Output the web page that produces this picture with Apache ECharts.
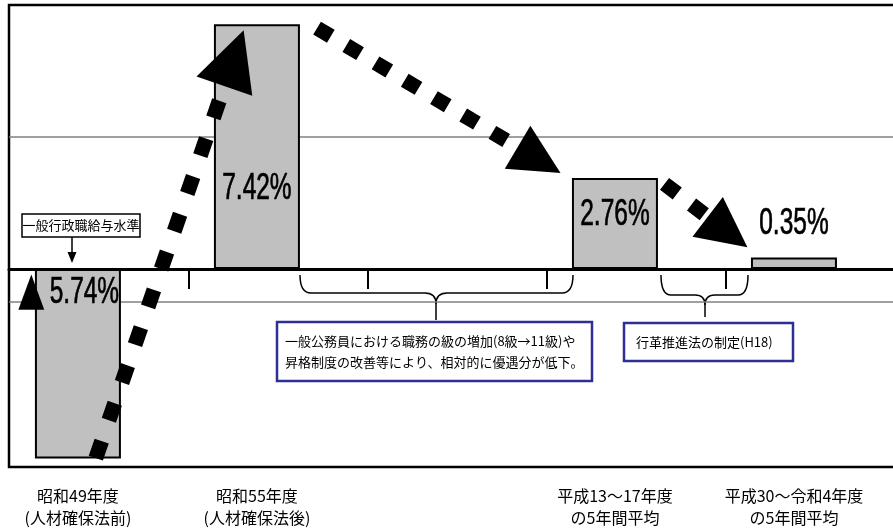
<!DOCTYPE html>
<html><head><meta charset="utf-8">
<script src="https://cdn.jsdelivr.net/npm/echarts@6/dist/echarts.min.js"></script>
<style>html,body{margin:0;padding:0;background:#fff;overflow:hidden}body{width:893px;height:532px}#c{width:913px;height:532px}</style>
</head><body><div id="c"></div>
<script>
// ---- data ----
const categories = ['昭和49年度\n(人材確保法前)', '昭和55年度\n(人材確保法後)', '平成13～17年度\nの5年間平均', '平成30～令和4年度\nの5年間平均'];
const slots = [0, 1, 3, 4];                 // category slot of each bar
const values = [-5.74, 7.42, 2.76, 0.35];   // % relative to 一般行政職
const tickSlots = [0.62, 1.62, 2.62, 3.62]; // axis ticks on the baseline
const gridValues = [-1, 4];                 // horizontal gridlines
const yRange = [-6, 8];
const xRange = [-0.385, 4.665];
// arrows (data coordinates: start, head centre)
const arrowFrom = [[0.10, -5.73], [1.336, 7.30], [3.277, 2.58]];
const arrowTo = [[0.872, 6.39], [2.576, 3.30], [3.629, 1.12]];

// ---- styles ----
const labelOffsets = [[6.5, 24], [0, 165], [0, 37], [0, -33]]; // from the bar's upper edge, px
const minusOffset = [-46.5, 23];
const arrowHead = [[51, 59], [57, 50], [57, 50]];
const arrowDash = [[18, 22], [16, 18], [16, 18]];
const numFont = '"Liberation Sans", Arial, sans-serif';
const jpFont = '"Noto Sans CJK JP","Noto Sans CJK SC",sans-serif';

const chart = echarts.init(document.getElementById('c'));

const arrowSeries = arrowFrom.map((f, i) => ({
  type: 'lines',
  coordinateSystem: 'cartesian2d',
  xAxisIndex: 0, yAxisIndex: 0,
  z: 4,
  symbol: ['none', 'triangle'],
  symbolSize: arrowHead[i],
  lineStyle: { color: '#000', width: 15, opacity: 1, type: arrowDash[i], cap: 'butt', curveness: 0 },
  data: [{ coords: [f, arrowTo[i]] }],
  silent: true,
  animation: false
}));

function brace(x1, x2, xm, yTop, yMid, yTip, r) {
  const st = { stroke: '#000', lineWidth: 1.5, fill: null };
  return [
    { type: 'bezierCurve', shape: { x1: x1, y1: yTop, x2: x1 + r, y2: yMid, cpx1: x1, cpy1: yMid }, style: st },
    { type: 'line', shape: { x1: x1 + r, y1: yMid, x2: xm - r, y2: yMid }, style: st },
    { type: 'bezierCurve', shape: { x1: xm - r, y1: yMid, x2: xm, y2: yMid + r, cpx1: xm, cpy1: yMid }, style: st },
    { type: 'bezierCurve', shape: { x1: xm + r, y1: yMid, x2: xm, y2: yMid + r, cpx1: xm, cpy1: yMid }, style: st },
    { type: 'line', shape: { x1: xm, y1: yMid + r, x2: xm, y2: yTip }, style: st },
    { type: 'line', shape: { x1: xm + r, y1: yMid, x2: x2 - r, y2: yMid }, style: st },
    { type: 'bezierCurve', shape: { x1: x2 - r, y1: yMid, x2: x2, y2: yTop, cpx1: x2, cpy1: yMid }, style: st }
  ];
}

const graphics = [].concat(
  brace(300, 573, 436, 275, 293, 320, 11),
  brace(661, 748, 705, 275, 295, 317, 10),
  [
    { type: 'rect', shape: { x: 22, y: 214, width: 118, height: 23 }, style: { fill: '#fff', stroke: '#000', lineWidth: 1.5 } },
    { type: 'text', x: 81, y: 225.5, style: { text: '一般行政職給与水準', font: '13px ' + jpFont, fill: '#000', align: 'center', verticalAlign: 'middle' } },
    { type: 'line', shape: { x1: 72, y1: 237, x2: 72, y2: 253 }, style: { stroke: '#000', lineWidth: 1.5 } },
    { type: 'polygon', shape: { points: [[67.5, 252], [76.5, 252], [72, 263]] }, style: { fill: '#000' } },
    { type: 'rect', shape: { x: 277, y: 322, width: 315, height: 59 }, style: { fill: '#fff', stroke: '#2e2e94', lineWidth: 2.5 } },
    { type: 'text', x: 285, y: 341, style: { text: '一般公務員における職務の級の増加(8級→11級)や', font: '13px ' + jpFont, fill: '#000', verticalAlign: 'middle' } },
    { type: 'text', x: 285, y: 362, style: { text: '昇格制度の改善等により、相対的に優遇分が低下。', font: '13px ' + jpFont, fill: '#000', verticalAlign: 'middle' } },
    { type: 'rect', shape: { x: 624, y: 323, width: 169, height: 38 }, style: { fill: '#fff', stroke: '#2e2e94', lineWidth: 2.5 } },
    { type: 'text', x: 636, y: 342, style: { text: '行革推進法の制定(H18)', font: '13px ' + jpFont, fill: '#000', verticalAlign: 'middle' } }
  ]
);

chart.setOption({
  backgroundColor: '#fff',
  animation: false,
  grid: { left: 9, right: 0, top: 5, bottom: 65, show: true, borderColor: '#000', borderWidth: 2.5, backgroundColor: 'transparent' },
  xAxis: [
    {
      type: 'value', position: 'top', min: xRange[0], max: xRange[1],
      axisLine: { show: true, onZero: true, lineStyle: { color: '#000', width: 3 } },
      axisTick: { show: true, inside: true, length: 20, customValues: tickSlots, lineStyle: { color: '#000', width: 2 } },
      axisLabel: { show: false },
      splitLine: { show: false }
    },
    {
      type: 'value', position: 'bottom', min: xRange[0], max: xRange[1],
      axisLine: { show: false, onZero: false },
      axisTick: { show: false },
      splitLine: { show: false },
      axisLabel: {
        show: true, customValues: slots, margin: 18,
        fontFamily: jpFont, fontSize: 16, lineHeight: 22, color: '#000',
        formatter: function (v) { const i = slots.indexOf(Math.round(v)); return i >= 0 ? categories[i] : ''; }
      }
    }
  ],
  yAxis: {
    type: 'value', min: yRange[0], max: yRange[1],
    axisLine: { show: false }, axisTick: { show: false }, axisLabel: { show: false }, splitLine: { show: false }
  },
  series: [
    {
      type: 'bar', xAxisIndex: 0, yAxisIndex: 0, z: 2,
      barWidth: 86,
      itemStyle: { color: '#c0c0c0', borderColor: '#000', borderWidth: 2 },
      data: values.map((v, i) => [slots[i], v]),
      markLine: {
        silent: true, symbol: 'none', z: 1,
        label: { show: false },
        lineStyle: { color: '#808080', width: 1.5, type: 'solid' },
        data: gridValues.map(v => ({ yAxis: v }))
      }
    },
    {
      type: 'custom', xAxisIndex: 0, yAxisIndex: 0, z: 5, silent: true,
      data: values.map((v, i) => [slots[i], v, i]),
      renderItem: function (params, api) {
        const v = api.value(1), i = api.value(2);
        const p = api.coord([api.value(0), Math.max(v, 0)]);
        const o = labelOffsets[i];
        const children = [{
          type: 'text', x: p[0] + o[0], y: p[1] + o[1], scaleX: 0.68,
          style: {
            text: Math.abs(v).toFixed(2) + '%',
            font: '36px ' + numFont, fill: '#000', stroke: '#000', lineWidth: 0.7,
            align: 'center', verticalAlign: 'middle'
          }
        }];
        if (v < 0) {
          children.push({
            type: 'text', x: p[0] + minusOffset[0], y: p[1] + minusOffset[1], scaleY: 1.35,
            style: { text: '▲', font: '34px "DejaVu Sans", sans-serif', fill: '#000', align: 'center', verticalAlign: 'middle' }
          });
        }
        return { type: 'group', children: children };
      }
    }
  ].concat(arrowSeries),
  graphic: graphics
});
</script>
</body></html>
